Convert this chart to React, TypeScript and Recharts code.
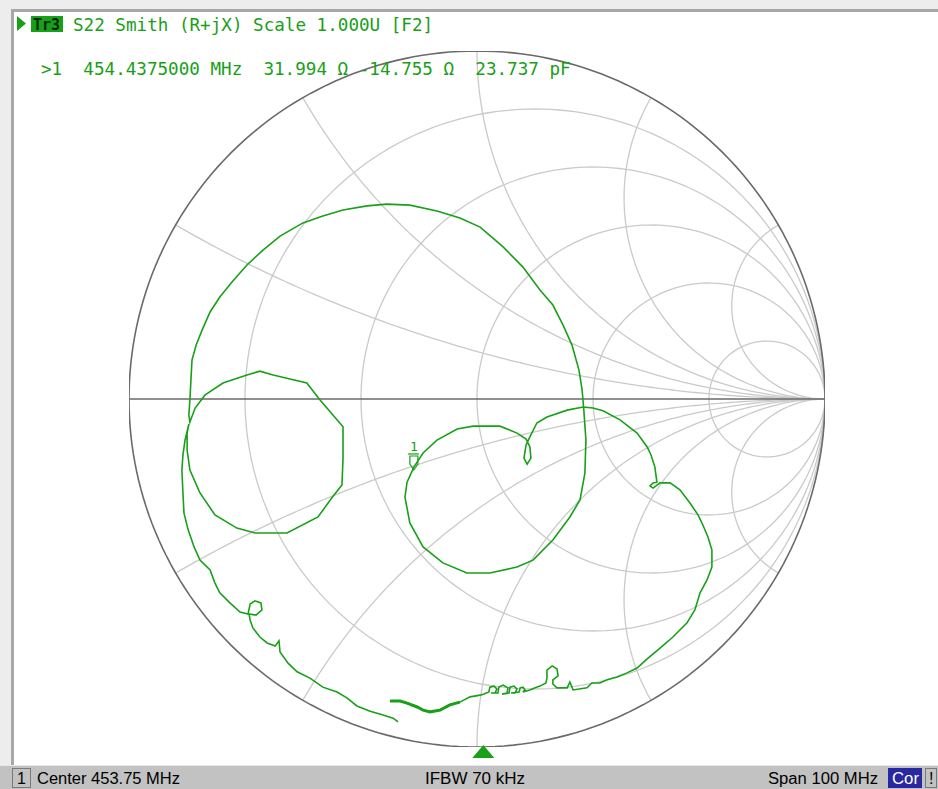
import React from "react";
import { ScatterChart, Scatter, XAxis, YAxis } from "recharts";

const traceRe = [
  -0.25, -0.221, -0.201, -0.172, -0.155, -0.135, -0.106, -0.078, -0.049, -0.02,
  0.009, 0.02, 0.034, 0.037, 0.049, 0.057, 0.052, 0.04, 0.06, 0.063,
  0.075, 0.089, 0.086, 0.072, 0.092, 0.095, 0.106, 0.115, 0.109, 0.098,
  0.121, 0.124, 0.132, 0.138, 0.132, 0.152, 0.167, 0.181, 0.198, 0.201,
  0.201, 0.216, 0.23, 0.233, 0.218, 0.218, 0.23, 0.259, 0.267, 0.276,
  0.316, 0.33, 0.353, 0.374, 0.402, 0.431,
  0.46, 0.489, 0.526, 0.563, 0.603, 0.626, 0.641, 0.661, 0.675, 0.675,
  0.664, 0.649, 0.635, 0.612, 0.583, 0.555, 0.526, 0.506, 0.497, 0.506,
  0.517, 0.511, 0.5, 0.489, 0.46, 0.411, 0.362, 0.333, 0.305, 0.259,
  0.201, 0.172, 0.152, 0.141, 0.135, 0.144, 0.155, 0.152, 0.141, 0.115,
  0.066, -0.011, -0.057, -0.115, -0.155, -0.181, -0.201, -0.207, -0.193, -0.155,
  -0.098, -0.029, 0.037, 0.115, 0.161, 0.218, 0.267, 0.296, 0.31, 0.313,
  0.307, 0.302, 0.293, 0.273, 0.247, 0.218, 0.181, 0.132, 0.075, 0.009,
  -0.049, -0.115, -0.193, -0.259, -0.316, -0.385, -0.443, -0.5, -0.566, -0.615,
  -0.661, -0.704, -0.739, -0.767, -0.79, -0.807, -0.819, -0.822, -0.825, -0.828,
  -0.825, -0.81, -0.782, -0.73, -0.661, -0.624, -0.586, -0.489, -0.451, -0.385,
  -0.385, -0.388, -0.417, -0.457, -0.546, -0.638, -0.69, -0.753, -0.796, -0.825,
  -0.833, -0.833, -0.828, -0.839, -0.845, -0.848, -0.845, -0.842, -0.83, -0.813,
  -0.796, -0.767, -0.753, -0.739, -0.71, -0.681, -0.658, -0.652, -0.638, -0.621,
  -0.618, -0.635, -0.655, -0.652, -0.644, -0.624, -0.603, -0.58, -0.569, -0.566,
  -0.543, -0.517, -0.48, -0.443, -0.402, -0.374, -0.345, -0.307, -0.27, -0.241,
  -0.227,
];
const traceIm = [
  -0.868, -0.868, -0.874, -0.885, -0.894, -0.899, -0.894, -0.879, -0.871, -0.856,
  -0.851, -0.848, -0.842, -0.828, -0.825, -0.833, -0.845, -0.845, -0.845, -0.828,
  -0.822, -0.83, -0.845, -0.848, -0.845, -0.828, -0.825, -0.833, -0.845, -0.845,
  -0.842, -0.83, -0.828, -0.836, -0.842, -0.836, -0.83, -0.825, -0.816, -0.802,
  -0.779, -0.767, -0.776, -0.796, -0.807, -0.819, -0.83, -0.83, -0.813, -0.836,
  -0.83, -0.816, -0.816, -0.807, -0.799, -0.787,
  -0.773, -0.747, -0.716, -0.684, -0.644, -0.606, -0.557, -0.52, -0.483, -0.434,
  -0.397, -0.362, -0.333, -0.299, -0.261, -0.241, -0.241, -0.256, -0.25, -0.241,
  -0.239, -0.195, -0.161, -0.138, -0.098, -0.06, -0.034, -0.026, -0.023, -0.032,
  -0.052, -0.069, -0.109, -0.132, -0.17, -0.187, -0.17, -0.138, -0.115, -0.098,
  -0.078, -0.078, -0.086, -0.118, -0.155, -0.195, -0.239, -0.282, -0.356, -0.425,
  -0.471, -0.5, -0.5, -0.483, -0.463, -0.405, -0.339, -0.29, -0.213, -0.118,
  -0.032, 0.026, 0.083, 0.155, 0.213, 0.27, 0.313, 0.379, 0.437, 0.494,
  0.52, 0.54, 0.557, 0.56, 0.555, 0.543, 0.526, 0.506, 0.468, 0.428,
  0.385, 0.336, 0.293, 0.25, 0.198, 0.155, 0.112, 0.055, -0.003, -0.046,
  -0.066, -0.026, 0.011, 0.046, 0.069, 0.08, 0.069, 0.046, -0.003, -0.08,
  -0.17, -0.247, -0.284, -0.339, -0.385, -0.385, -0.371, -0.333, -0.27, -0.204,
  -0.147, -0.098, -0.072, -0.118, -0.161, -0.204, -0.27, -0.328, -0.376, -0.425,
  -0.463, -0.491, -0.529, -0.557, -0.586, -0.612, -0.618, -0.589, -0.58, -0.586,
  -0.606, -0.621, -0.618, -0.635, -0.658, -0.684, -0.701, -0.71, -0.695, -0.727,
  -0.759, -0.784, -0.802, -0.828, -0.842, -0.859, -0.882, -0.897, -0.908, -0.917,
  -0.928,
];

// grid: constant resistance circles and constant reactance arcs
const resistanceValues = [0.2, 0.5, 1, 2, 5];
const reactanceValues = [0.268, 0.577, 1, 1.732, 3.732];

// marker readout
const markerFreqMHz = 454.4375;
const markerR = 31.994;
const markerX = -14.755;
const markerCapPF = 23.737;
const z0 = 50;

const centerMHz = 453.75;
const spanMHz = 100;
const ifbwKHz = 70;

const traceData = traceRe.map((x, i) => ({ x, y: traceIm[i] }));

function zToGamma(r: number, x: number) {
  const d = (r + 1) * (r + 1) + x * x;
  return { x: (r * r - 1 + x * x) / d, y: (2 * x) / d };
}

function rCircle(r: number) {
  const pts = [{ x: 1, y: 0 }];
  const n = 240;
  for (let i = 1; i < n; i++) {
    const t = -Math.PI / 2 + (Math.PI * i) / n;
    pts.push(zToGamma(r, Math.tan(t)));
  }
  pts.push({ x: 1, y: 0 });
  return pts;
}

function xArc(x: number) {
  const pts = [];
  const n = 160;
  for (let i = 0; i < n; i++) {
    const t = (Math.PI / 2) * (i / n);
    pts.push(zToGamma(Math.tan(t), x));
  }
  pts.push({ x: 1, y: 0 });
  return pts;
}

const markerGamma = zToGamma(markerR / z0, markerX / z0);

const GREEN = "#18a018";
const GRID = "#cacaca";
const noDot = () => <g />;

const MarkerShape = (props: any) => {
  const { cx, cy } = props;
  return (
    <g>
      <text x={cx - 4} y={cy - 22} fill={GREEN} fontSize={13} fontFamily="DejaVu Sans Mono">
        1
      </text>
      <line x1={cx - 6} y1={cy - 19} x2={cx + 5} y2={cy - 19} stroke={GREEN} strokeWidth={1.2} />
      <polygon
        points={`${cx - 4},${cy - 17} ${cx + 4},${cy - 17} ${cx + 4},${cy - 9} ${cx},${cy - 3} ${cx - 4},${cy - 9}`}
        fill="none"
        stroke={GREEN}
        strokeWidth={1.2}
      />
    </g>
  );
};

export default function App() {
  const startMHz = centerMHz - spanMHz / 2;
  const triX = 17 + ((markerFreqMHz - startMHz) / spanMHz) * 920;
  const header2 = `>1  ${markerFreqMHz.toFixed(7)} MHz  ${markerR.toFixed(3)} \u03a9 ${markerX.toFixed(3)} \u03a9  ${markerCapPF.toFixed(3)} pF`;
  const mono = "'DejaVu Sans Mono', monospace";
  const sans = "'Liberation Sans', Arial, sans-serif";

  return (
    <div style={{ position: "absolute", left: 0, top: 0, width: 938, height: 789, background: "#ededed", overflow: "hidden" }}>
      <div
        style={{
          position: "absolute",
          left: 11,
          top: 9,
          width: 927,
          height: 756,
          background: "#fff",
          borderTop: "3px solid #a8a8a8",
          borderLeft: "3px solid #a8a8a8",
          boxSizing: "border-box",
        }}
      />
      <div style={{ position: "absolute", left: 0, top: 0 }}>
        <ScatterChart width={938} height={789} margin={{ top: 51, right: 113, bottom: 42, left: 129 }}>
          <XAxis type="number" dataKey="x" domain={[-1, 1]} hide allowDataOverflow />
          <YAxis type="number" dataKey="y" domain={[-1, 1]} hide allowDataOverflow />
          {resistanceValues.map((r) => (
            <Scatter key={"r" + r} data={rCircle(r)} line={{ stroke: GRID, strokeWidth: 1.3 }} shape={noDot} fill="none" isAnimationActive={false} />
          ))}
          {reactanceValues.map((x) => (
            <Scatter key={"xp" + x} data={xArc(x)} line={{ stroke: GRID, strokeWidth: 1.3 }} shape={noDot} fill="none" isAnimationActive={false} />
          ))}
          {reactanceValues.map((x) => (
            <Scatter key={"xn" + x} data={xArc(-x)} line={{ stroke: GRID, strokeWidth: 1.3 }} shape={noDot} fill="none" isAnimationActive={false} />
          ))}
          <Scatter data={rCircle(0)} line={{ stroke: "#6a6a6a", strokeWidth: 1.6 }} shape={noDot} fill="none" isAnimationActive={false} />
          <Scatter data={[{ x: -1, y: 0 }, { x: 1, y: 0 }]} line={{ stroke: "#6a6a6a", strokeWidth: 1.6 }} shape={noDot} fill="none" isAnimationActive={false} />
          <Scatter data={traceData} line={{ stroke: GREEN, strokeWidth: 1.6 }} shape={noDot} fill="none" isAnimationActive={false} />
          {/* sweep start is drawn heavier where the points pile up */}
          <Scatter data={traceData.slice(0, 9)} line={{ stroke: GREEN, strokeWidth: 3 }} shape={noDot} fill="none" isAnimationActive={false} />
          <Scatter data={[markerGamma]} shape={MarkerShape} isAnimationActive={false} />
        </ScatterChart>
      </div>
      <svg width={938} height={789} style={{ position: "absolute", left: 0, top: 0, pointerEvents: "none" }}>
        <polygon points="17,16 26,23.5 17,31" fill={GREEN} />
        <rect x={31} y={16} width={32} height={16} fill={GREEN} />
        <text x={33} y={30} fill="#0a2a0a" fontSize={15} fontFamily={mono} fontWeight="bold" style={{ whiteSpace: "pre" }}>
          Tr3
        </text>
        <text x={73} y={31} fill={GREEN} fontSize={17.6} fontFamily={mono} style={{ whiteSpace: "pre" }}>
          S22 Smith (R+jX) Scale 1.000U [F2]
        </text>
        <text x={41} y={75} fill={GREEN} fontSize={17.6} fontFamily={mono} style={{ whiteSpace: "pre" }}>
          {header2}
        </text>
        <polygon points={`${triX - 11},758 ${triX + 11},758 ${triX},745`} fill={GREEN} />

        <rect x={0} y={765} width={938} height={24} fill="#c2c2c2" />
        <line x1={0} y1={765.5} x2={938} y2={765.5} stroke="#e6e6e6" />
        <rect x={12.5} y={768.5} width={18} height={19} fill="#c2c2c2" stroke="#7a7a7a" />
        <text x={17} y={784} fontSize={16} fontFamily={sans} fill="#000">1</text>
        <text x={37} y={784} fontSize={16} fontFamily={sans} fill="#000" textLength={143} lengthAdjust="spacingAndGlyphs">
          {`Center ${centerMHz.toFixed(2)} MHz`}
        </text>
        <text x={425} y={784} fontSize={16} fontFamily={sans} fill="#000" textLength={100} lengthAdjust="spacingAndGlyphs">
          {`IFBW ${ifbwKHz} kHz`}
        </text>
        <text x={768} y={784} fontSize={16} fontFamily={sans} fill="#000" textLength={110} lengthAdjust="spacingAndGlyphs">
          {`Span ${spanMHz} MHz`}
        </text>
        <rect x={888} y={768} width={34} height={20} fill="#2828a0" />
        <text x={892} y={784} fontSize={16} fontFamily={sans} fill="#fff" textLength={27} lengthAdjust="spacingAndGlyphs">Cor</text>
        <rect x={925.5} y={768.5} width={11} height={19} fill="#c2c2c2" stroke="#7a7a7a" />
        <text x={929} y={784} fontSize={16} fontFamily={sans} fill="#000">!</text>
      </svg>
    </div>
  );
}
